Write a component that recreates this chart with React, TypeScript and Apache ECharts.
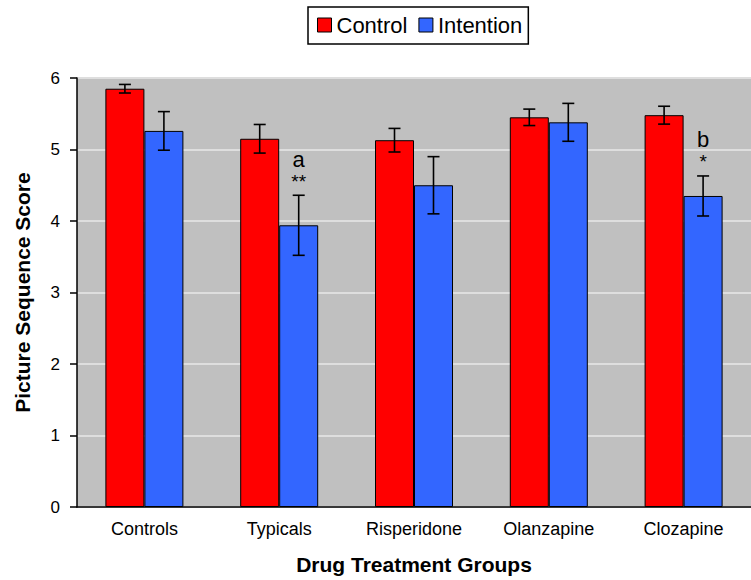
import React, { useEffect, useRef } from "react";
import * as echarts from "echarts";

const categories = ["Controls", "Typicals", "Risperidone", "Olanzapine", "Clozapine"];
const controlValues = [5.85, 5.15, 5.13, 5.45, 5.48];
const controlErrors = [0.06, 0.2, 0.165, 0.115, 0.125];
const intentionValues = [5.26, 3.94, 4.5, 5.38, 4.35];
const intentionErrors = [0.27, 0.42, 0.4, 0.265, 0.28];
const annotationLetters = ["", "a", "", "", "b"];
const annotationStars = ["", "**", "", "", "*"];
const yTicks = [0, 1, 2, 3, 4, 5, 6];

const FONT = "'Liberation Sans', Arial, sans-serif";
const BAR_W = 39;

function errorSeries(name: string, values: number[], errs: number[], offset: number, withNotes: boolean) {
  return {
    type: "custom",
    name: name + "-err",
    silent: true,
    z: 5,
    data: values.map((v, i) => [i, v - errs[i], v + errs[i]]),
    renderItem: (params: any, api: any) => {
      const i = api.value(0);
      const lo = api.coord([i, api.value(1)]);
      const hi = api.coord([i, api.value(2)]);
      const x = lo[0] + offset;
      const cap = 6;
      const style = { stroke: "#000", lineWidth: 1.6 };
      const children: any[] = [
        { type: "line", shape: { x1: x, y1: lo[1], x2: x, y2: hi[1] }, style },
        { type: "line", shape: { x1: x - cap, y1: lo[1], x2: x + cap, y2: lo[1] }, style },
        { type: "line", shape: { x1: x - cap, y1: hi[1], x2: x + cap, y2: hi[1] }, style },
      ];
      if (withNotes && annotationLetters[i]) {
        children.push({
          type: "text",
          style: {
            text: annotationLetters[i],
            x: x,
            y: hi[1] - 36,
            textAlign: "center",
            textVerticalAlign: "middle",
            font: `22px ${FONT}`,
            fill: "#000",
          },
        });
        children.push({
          type: "text",
          style: {
            text: annotationStars[i],
            x: x,
            y: hi[1] - 14,
            textAlign: "center",
            textVerticalAlign: "middle",
            font: `19px ${FONT}`,
            fill: "#000",
          },
        });
      }
      return { type: "group", children };
    },
  };
}

export default function App() {
  const ref = useRef<HTMLDivElement>(null);
  useEffect(() => {
    if (!ref.current) return;
    const chart = echarts.init(ref.current, null, { renderer: "svg" });
    chart.setOption({
      animation: false,
      textStyle: { fontFamily: FONT },
      legend: {
        top: 7,
        left: 308,
        data: ["Control", "Intention"],
        icon: "rect",
        itemWidth: 14,
        itemHeight: 14,
        itemGap: 11,
        padding: [7, 6, 8, 9],
        borderColor: "#000",
        borderWidth: 1.5,
        itemStyle: { borderColor: "#000", borderWidth: 1 },
        textStyle: { fontSize: 22, color: "#000", fontFamily: FONT },
      },
      grid: {
        left: 77,
        top: 78,
        width: 685,
        height: 431,
        show: true,
        backgroundColor: "#c0c0c0",
        borderWidth: 0,
      },
      xAxis: {
        type: "category",
        data: categories,
        name: "Drug Treatment Groups",
        nameLocation: "middle",
        nameGap: 47,
        nameTextStyle: { fontSize: 21, fontWeight: "bold", color: "#000", fontFamily: FONT },
        axisLine: { lineStyle: { color: "#000", width: 1.5 } },
        axisTick: { length: 6, lineStyle: { color: "#000", width: 1.5 } },
        axisLabel: { fontSize: 18, color: "#000", margin: 13, fontFamily: FONT },
      },
      yAxis: {
        type: "value",
        min: yTicks[0],
        max: yTicks[yTicks.length - 1],
        interval: 1,
        name: "Picture Sequence Score",
        nameLocation: "middle",
        nameGap: 44,
        nameTextStyle: { fontSize: 21, fontWeight: "bold", color: "#000", fontFamily: FONT },
        axisLine: { show: true, lineStyle: { color: "#000", width: 1.5 } },
        axisTick: { show: true, length: 7, lineStyle: { color: "#000", width: 1.5 } },
        axisLabel: { fontSize: 17, color: "#000", margin: 17, fontFamily: FONT },
        splitLine: { lineStyle: { color: "#dedede", width: 2 } },
      },
      series: [
        {
          type: "bar",
          name: "Control",
          data: controlValues,
          barWidth: BAR_W,
          barGap: "0%",
          itemStyle: { color: "#ff0000", borderColor: "#000", borderWidth: 1 },
        },
        {
          type: "bar",
          name: "Intention",
          data: intentionValues,
          barWidth: BAR_W,
          barGap: "0%",
          itemStyle: { color: "#3366ff", borderColor: "#000", borderWidth: 1 },
        },
        errorSeries("Control", controlValues, controlErrors, -BAR_W / 2, false),
        errorSeries("Intention", intentionValues, intentionErrors, BAR_W / 2, true),
      ],
    });
    return () => chart.dispose();
  }, []);
  return (
    <div
      ref={ref}
      style={{ position: "absolute", left: 0, top: 0, width: 751, height: 580, background: "#fff" }}
    />
  );
}
